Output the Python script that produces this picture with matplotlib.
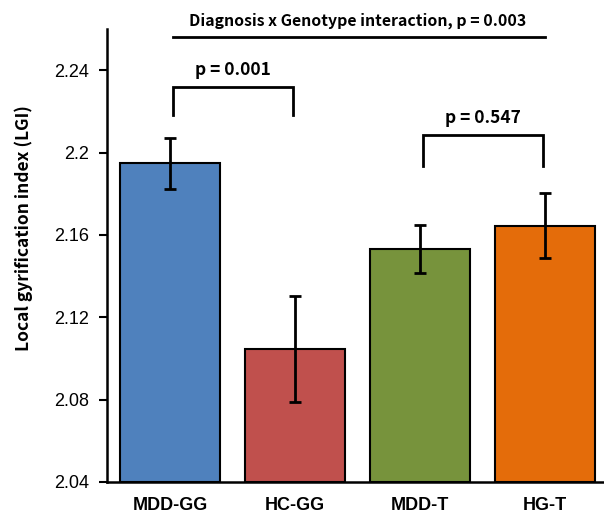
import matplotlib
matplotlib.use("Agg")
import matplotlib.pyplot as plt

groups = ["MDD-GG", "HC-GG", "MDD-T", "HG-T"]
lgi_mean = [2.1947, 2.1046, 2.1533, 2.1644]
lgi_err = [0.0126, 0.0258, 0.0116, 0.0158]
bar_colors = ["#4F81BD", "#C0504D", "#77933C", "#E46C0A"]

yticks = [2.04, 2.08, 2.12, 2.16, 2.2, 2.24]
ytick_labels = ["2.04", "2.08", "2.12", "2.16", "2.2", "2.24"]

# pairwise comparisons: (left bar, right bar, bracket top, leg bottom, label)
pairs = [
    (0, 1, 2.2316, 2.2180, "p = 0.001"),
    (2, 3, 2.2083, 2.1937, "p = 0.547"),
]
interaction_y = 2.2560
interaction_text = "Diagnosis x Genotype interaction, p = 0.003"

LBL_FONT = ["Noto Sans CJK KR", "DejaVu Sans"]

fig = plt.figure(figsize=(6.04, 5.13), dpi=100)
ax = fig.add_axes([107 / 604, 1 - 482 / 513, 497 / 604, 453 / 513])

x = range(len(groups))
ax.bar(x, [m - 2.04 for m in lgi_mean], bottom=2.04, width=0.8,
       color=bar_colors, edgecolor="black", linewidth=1.5)
ax.errorbar(x, lgi_mean, yerr=lgi_err, fmt="none", ecolor="black",
            elinewidth=2, capsize=4, capthick=2)

for a, b, top, low, txt in pairs:
    ax.plot([a + 0.02, a + 0.02, b - 0.02, b - 0.02], [low, top, top, low],
            color="black", lw=2, solid_joinstyle="miter")
    ax.text((a + b) / 2, top + 0.0042, txt, ha="center", va="bottom",
            fontsize=12.5, fontweight="bold", family=LBL_FONT)

ax.plot([0.02, 3.0], [interaction_y, interaction_y], color="black", lw=2)
ax.text(1.5, interaction_y + 0.0042, interaction_text, ha="center", va="bottom",
        fontsize=11.4, fontweight="bold", family=LBL_FONT)

ax.set_ylim(2.04, 2.26)
ax.set_xlim(-0.504, 3.472)
ax.set_yticks(yticks)
ax.set_yticklabels(ytick_labels, family="Liberation Sans", fontsize=13)
ax.set_xticks(list(x))
ax.set_xticklabels(groups, family="Liberation Sans", fontsize=13, fontweight="bold")
ax.tick_params(axis="x", length=0, pad=11)
ax.tick_params(axis="y", length=6, width=1.5, direction="out", pad=7)
ax.set_ylabel("Local gyrification index (LGI)", fontsize=12.5, fontweight="bold",
              family=LBL_FONT)
ax.yaxis.set_label_coords(-0.148, 0.561)

for s in ["top", "right"]:
    ax.spines[s].set_visible(False)
for s in ["left", "bottom"]:
    ax.spines[s].set_linewidth(1.8)

fig.savefig("out.png", dpi=100)
